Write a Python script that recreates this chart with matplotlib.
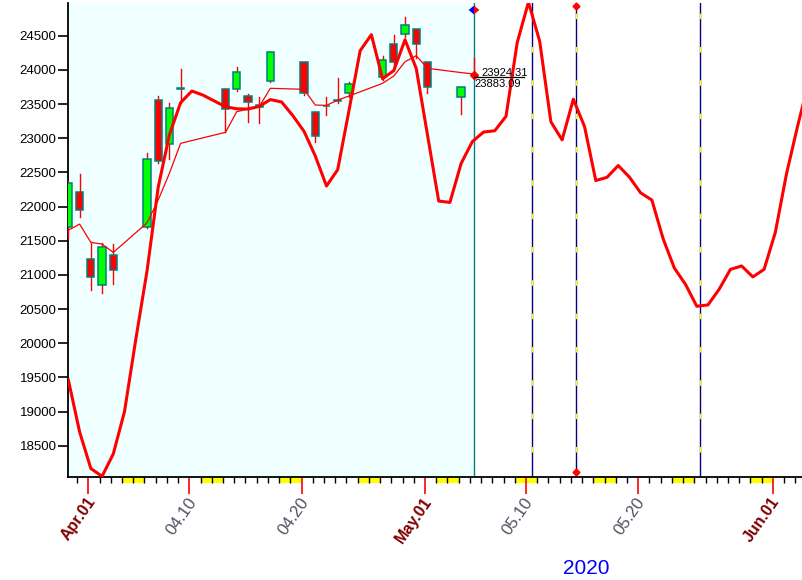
import matplotlib
matplotlib.use("Agg")
import matplotlib.pyplot as plt
from matplotlib.patches import Rectangle, Polygon
from matplotlib.transforms import blended_transform_factory, offset_copy
import datetime as dt

plt.rcParams['font.family'] = ['Liberation Sans', 'DejaVu Sans']
plt.rcParams['lines.scale_dashes'] = False

# ---------------- data (day index: 0 = 2020-04-01) ----------------
base_date = dt.date(2020, 4, 1)

candle_days = [-2, -1, 0, 1, 2, 5, 6, 7, 8, 12, 13, 14, 15, 16, 19, 20, 21, 22, 23,
               26, 27, 28, 29, 30, 33]
opens  = [21696, 22217, 21228, 20847, 21286, 21705, 23559, 22911, 23715, 23715, 23715,
          23613, 23460, 23841, 24111, 23379, 23465, 23544, 23657, 23891, 24374, 24520,
          24594, 24120, 23607]
highs  = [22374, 22476, 21485, 21471, 21452, 22780, 23617, 23520, 24013, 23715, 24046,
          23647, 23607, 24257, 24120, 23379, 23607, 23877, 23827, 24203, 24510, 24778,
          24594, 24120, 23754]
lows   = [21535, 21851, 20778, 20739, 20866, 21690, 22641, 22691, 23520, 23095, 23695,
          23241, 23218, 23827, 23632, 22949, 23339, 23511, 23607, 23852, 24023, 24485,
          24169, 23657, 23354]
closes = [22340, 21949, 20964, 21412, 21067, 22691, 22671, 23437, 23728, 23423, 23969,
          23530, 23480, 24257, 23666, 23037, 23477, 23559, 23789, 24140, 24120, 24657,
          24374, 23745, 23754]

now_day = 34.15
now_high = 24170
now_price = 23924.31
prev_price = 23883.09

ma_days = candle_days + [now_day]
ma_vals = [21655, 21742, 21475, 21450, 21328, 21760, 22094, 22486, 22925, 23086, 23387,
           23427, 23460, 23730, 23715, 23485, 23480, 23558, 23617, 23803, 23910, 24119,
           24207, 24023, 23960, 23939]

cycle_days = list(range(-2, 65))
cycle_vals = [19458, 18701, 18165, 18052, 18380, 19000, 20050, 21050, 22280, 23050,
              23520, 23690, 23630, 23545, 23460, 23430, 23427, 23465, 23565, 23530,
              23330, 23100, 22740, 22300, 22540, 23400, 24280, 24515, 23870, 23990,
              24440, 24020, 23050, 22080, 22060, 22630, 22950, 23090, 23109, 23320,
              24400, 24990, 24420, 23240, 22975, 23570, 23170, 22380, 22427, 22600,
              22430, 22200, 22095, 21530, 21100, 20860, 20540, 20560, 20790, 21080,
              21130, 20970, 21080, 21620, 22480, 23185, 23840]

turn_days = [39.3, 43.2, 54.3]
marked_turn = 43.2

yticks = list(range(18500, 25000, 500))
major_days = [0, 9, 19, 30, 39, 49, 61]
weekend_days = [3, 10, 17, 24, 31, 38, 45, 52, 59]
year_label = "2020"

# ---------------- figure ----------------
W, H = 802, 580
fig = plt.figure(figsize=(W / 100, H / 100), dpi=100)
ax_l, ax_r, ax_t, ax_b = 68.3, 802, 3.3, 476.7
ax = fig.add_axes([ax_l / W, 1 - ax_b / H, (ax_r - ax_l) / W, (ax_b - ax_t) / H])
ax.set_xlim(-2.01, 63.38)
ax.set_ylim(18046, 24974)

tick_off = -0.22  # tick marks sit slightly left of bar centres

ax.axvspan(-3, now_day, color='#F0FFFF', zorder=0, lw=0)
ax.axvline(now_day, color='#008080', lw=1.0, zorder=2)

# turning-point lines
for d in turn_days:
    ax.axvline(d, color='#000080', lw=1.0, zorder=2)
    ax.axvline(d, color='#FFFF00', lw=1.0, zorder=2.1, linestyle=(6, (4, 20)))
ax.plot([marked_turn, marked_turn], [24930, 18120], linestyle='none', marker='D',
        ms=3.5, color='red', zorder=4, clip_on=False)

# candles
body_w = 0.65
for d, o, h, l, c in zip(candle_days, opens, highs, lows, closes):
    ax.plot([d, d], [l, h], color='red', lw=1.0, zorder=3)
    lo, hi = min(o, c), max(o, c)
    ht = max(hi - lo, 12)
    fc = '#00FF00' if c >= o else '#FF0000'
    ax.add_patch(Rectangle((d - body_w / 2, lo), body_w, ht, facecolor=fc,
                           edgecolor='#008080', lw=1.1, zorder=3.2))

# current bar wick + marker
ax.plot([now_day, now_day], [now_price, now_high], color='red', lw=1.0, zorder=3)

ax.plot(ma_days, ma_vals, color='red', lw=0.9, zorder=4)
ax.plot(cycle_days, cycle_vals, color='#FF0000', lw=2.2, zorder=4.5)

ax.plot([now_day], [now_price], marker='D', ms=4.5, color='red', zorder=5)
ax.plot([now_day, now_day + 4.45], [23893, 23893], color='black', lw=0.9, zorder=5)
ax.text(now_day + 0.62, now_price - 12, f"{now_price:.2f}", fontsize=8, ha='left',
        va='baseline', zorder=6)
ax.text(now_day + 0.05, prev_price - 20, f"{prev_price:.2f}", fontsize=8, ha='left',
        va='top', zorder=6)

# split diamond at the current bar (blue left half, red right half)
dia_y, dia_hw, dia_hh = 24876, 0.48, 64
ax.add_patch(Polygon([(now_day, dia_y + dia_hh), (now_day - dia_hw, dia_y),
                      (now_day, dia_y - dia_hh)], closed=True, facecolor='#0000FF',
                     edgecolor='none', zorder=6, clip_on=False))
ax.add_patch(Polygon([(now_day, dia_y + dia_hh), (now_day + dia_hw, dia_y),
                      (now_day, dia_y - dia_hh)], closed=True, facecolor='#FF0000',
                     edgecolor='none', zorder=6, clip_on=False))

# axes styling
for s in ['top', 'right']:
    ax.spines[s].set_visible(False)
ax.spines['left'].set_linewidth(1.3)
ax.spines['bottom'].set_linewidth(1.3)

ax.set_yticks(yticks)
ax.set_yticklabels([str(v) for v in yticks], fontsize=9.5)
ax.tick_params(axis='y', length=7, width=1.2, pad=1.5, colors='black')

minor = [d + tick_off for d in range(-1, 64)]
ax.set_xticks([d + tick_off for d in major_days])
ax.set_xticklabels([])
ax.set_xticks(minor, minor=True)
ax.tick_params(axis='x', which='major', length=12, width=1.2, color='red')
ax.tick_params(axis='x', which='minor', length=4, width=1.0, color='black')

trans_b = blended_transform_factory(ax.transData, ax.transAxes)
for d in weekend_days:
    ax.add_patch(Rectangle((d + tick_off, 0), 2, -6.6 / (ax_b - ax_t), transform=trans_b,
                           facecolor='#FFFF00', edgecolor='none', clip_on=False, zorder=1))

lab_tr = offset_copy(ax.get_xaxis_transform(), fig=fig, x=10, y=-18, units='dots')
for d in major_days:
    date = base_date + dt.timedelta(days=d)
    if date.day == 1:
        txt = date.strftime('%b') + '.01'
        ax.text(d + tick_off, 0, txt, transform=lab_tr, rotation=55, ha='right', va='top',
                fontsize=11.5, fontweight='bold', color='#800000')
    else:
        txt = date.strftime('%m.%d')
        ax.text(d + tick_off, 0, txt, transform=lab_tr, rotation=55, ha='right', va='top',
                fontsize=12, color='#505060')

fig.text(586 / W, 1 - 568 / H, year_label, ha='center', va='center', color='#0000FF',
         fontsize=15)

fig.savefig('out.png', dpi=100)
